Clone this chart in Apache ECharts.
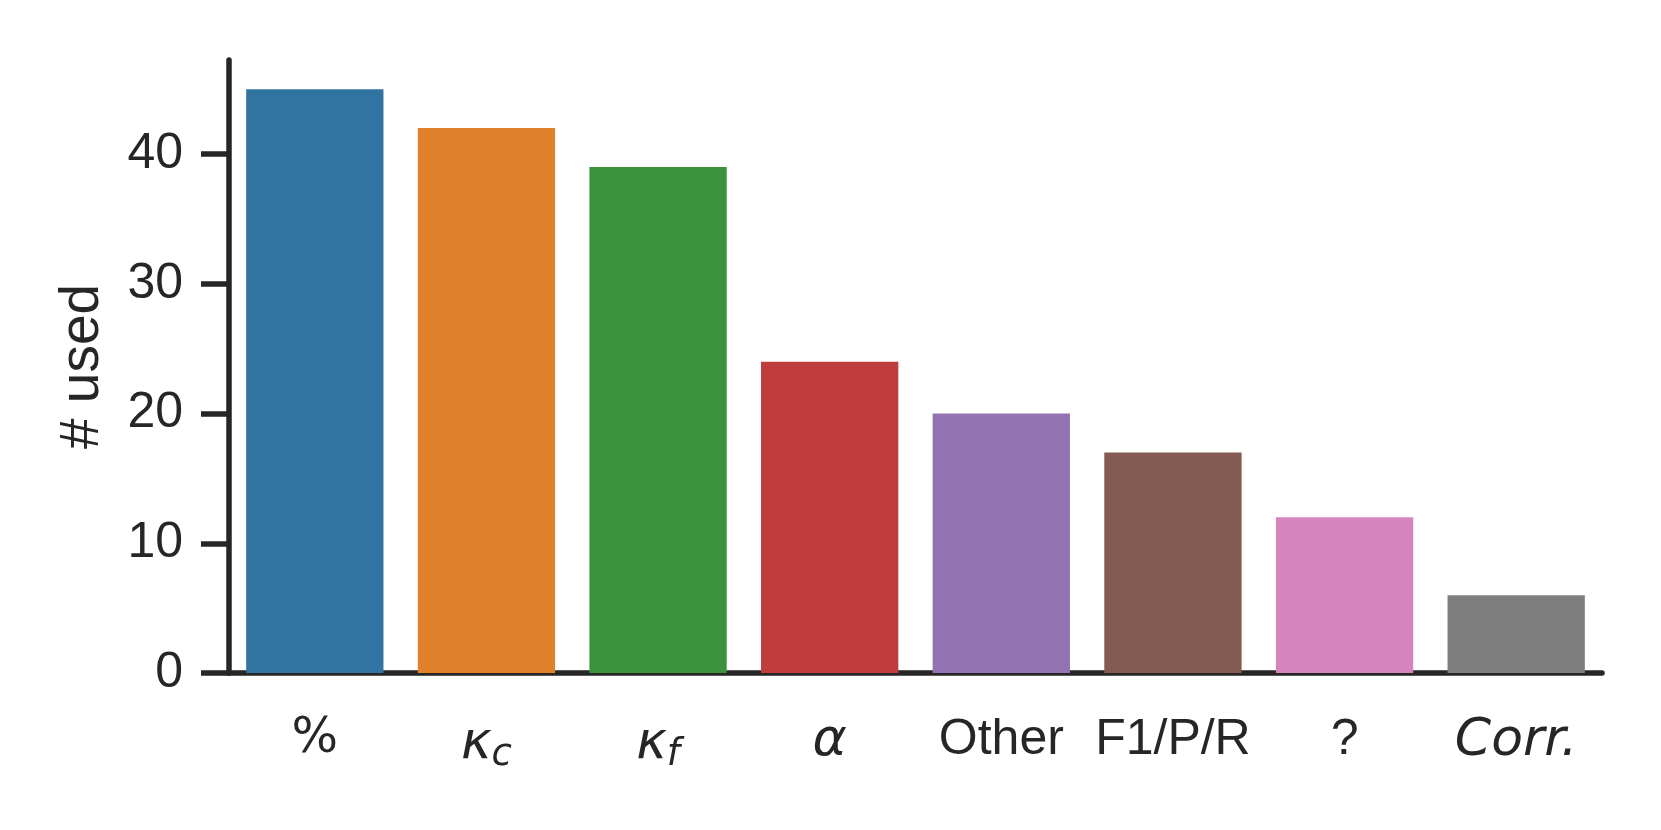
<!DOCTYPE html>
<html>
<head>
<meta charset="utf-8">
<script src="https://cdn.jsdelivr.net/npm/echarts@6/dist/echarts.min.js"></script>
<style>
  html, body { margin: 0; padding: 0; background: #fff; }
  #chart { width: 1661px; height: 830px; }
</style>
</head>
<body>
<div id="chart"></div>
<script>
// categories and counts
var categories = ['%', 'kc', 'kf', 'alpha', 'Other', 'F1/P/R', '?', 'Corr.'];
var counts = [45, 42, 39, 24, 20, 17, 12, 6];
var colors = ['#3274a1', '#e1812c', '#3a923a', '#c03d3e', '#9372b2', '#845b53', '#d684bd', '#7f7f7f'];
var yTicks = [0, 10, 20, 30, 40];

// how each category label is drawn (mathtext-like pieces)
var labelText = {
  '%': '{mr|%}',
  'kc': '{mi|κ}{sub|c}',
  'kf': '{mi|κ}{sub|f}',
  'alpha': '{mi|α}',
  'Other': 'Other',
  'F1/P/R': 'F1/P/R',
  '?': '?',
  'Corr.': '{mi|Corr.}'
};

var ink = '#262626';
var chart = echarts.init(document.getElementById('chart'));

var option = {
  animation: false,
  grid: { left: 229, right: 59, top: 60, bottom: 157 },
  xAxis: {
    type: 'category',
    data: categories,
    axisLine: { show: true, lineStyle: { color: ink, width: 5.5 } },
    axisTick: { show: false },
    axisLabel: {
      interval: 0,
      margin: 42,
      color: ink,
      fontFamily: 'Liberation Sans, Arial, sans-serif',
      fontSize: 50,
      formatter: function (v) { return labelText[v]; },
      rich: {
        mr: { fontFamily: 'DejaVu Sans', fontSize: 49, color: ink },
        mi: { fontFamily: 'DejaVu Sans', fontStyle: 'italic', fontSize: 52, color: ink },
        sub: { fontFamily: 'DejaVu Sans', fontStyle: 'italic', fontSize: 37, color: ink, padding: [22, 0, 0, 0] }
      }
    }
  },
  yAxis: {
    type: 'value',
    min: 0,
    max: 47.25,
    name: '# used',
    nameLocation: 'middle',
    nameGap: 119,
    nameRotate: 90,
    nameTextStyle: { color: ink, fontSize: 55, fontFamily: 'Liberation Sans, Arial, sans-serif' },
    axisLine: { show: true, lineStyle: { color: ink, width: 5.5 } },
    axisTick: { show: true, length: 28, customValues: yTicks, lineStyle: { color: ink, width: 5.5 } },
    axisLabel: {
      customValues: yTicks,
      margin: 46,
      color: ink,
      fontSize: 50,
      fontFamily: 'Liberation Sans, Arial, sans-serif'
    },
    splitLine: { show: false }
  },
  series: [{
    type: 'bar',
    barWidth: '80%',
    data: counts.map(function (v, i) {
      return { value: v, itemStyle: { color: colors[i] } };
    })
  }]
};

chart.setOption(option);
</script>
</body>
</html>
